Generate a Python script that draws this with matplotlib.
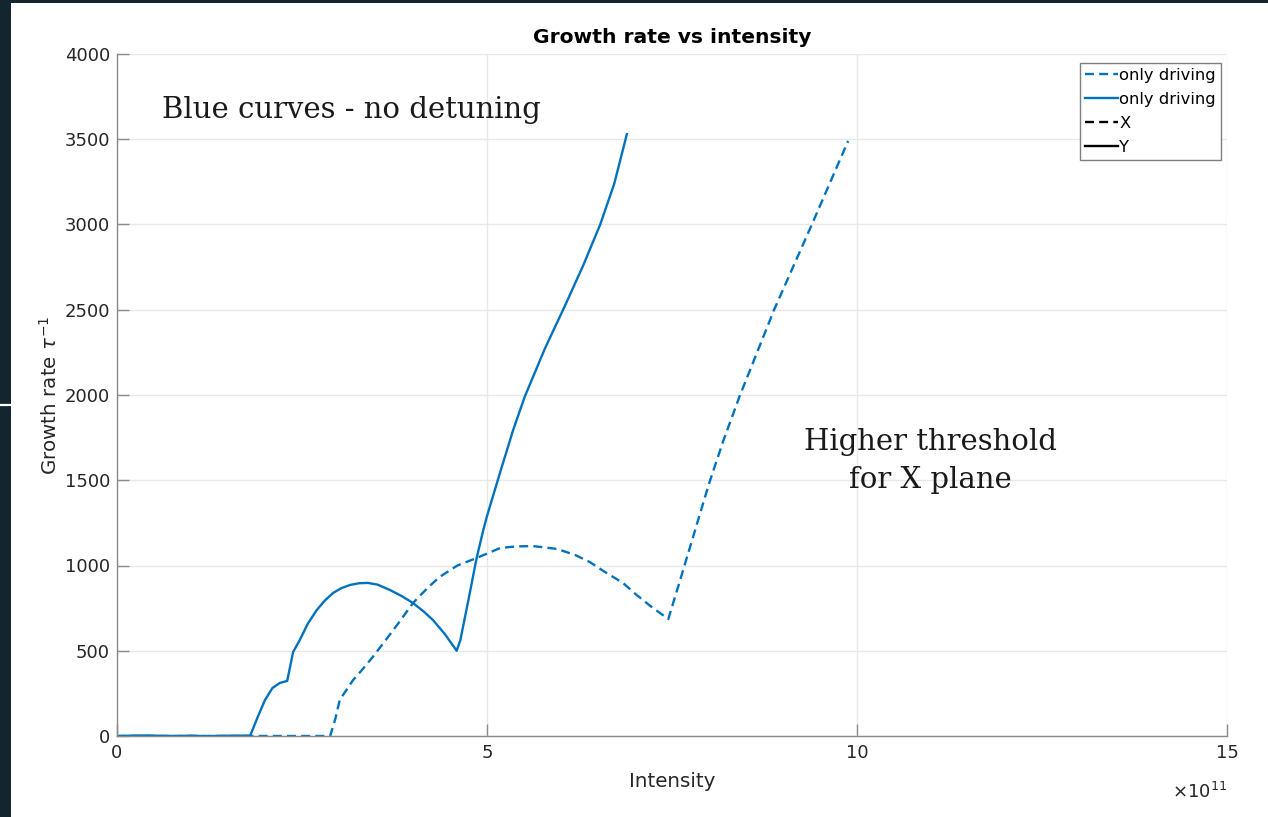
import numpy as np
import matplotlib
matplotlib.use("Agg")
import matplotlib.pyplot as plt
from matplotlib.lines import Line2D
from matplotlib.patches import Rectangle
from matplotlib.ticker import FuncFormatter

SCALE = 1e11  # intensities below are given in units of 1e11

# Y plane (solid, only driving)
int_y = [0.0, 0.2, 0.4, 0.6, 0.8, 1.0, 1.2, 1.4, 1.6, 1.8, 1.9, 2.0, 2.1, 2.2, 2.3,
         2.38, 2.47, 2.58, 2.70, 2.81, 2.92, 3.03, 3.15, 3.27, 3.39, 3.52, 3.69,
         3.85, 4.0, 4.15, 4.27, 4.43, 4.59,
         4.64, 4.75, 4.86, 4.95, 5.0, 5.18, 5.35, 5.51, 5.78, 6.05, 6.30, 6.53, 6.72, 6.89]
rate_y = [0, 2, 3, 1, 0, 2, -1, 1, 2, 2, 110, 211, 281, 311, 323,
          493, 563, 660, 739, 795, 839, 867, 886, 896, 898, 888, 856,
          820, 780, 728, 680, 598, 500,
          563, 800, 1044, 1208, 1290, 1550, 1790, 1990, 2270, 2520, 2760, 3000, 3240, 3530]

# X plane (dashed, only driving)
int_x = [0.0, 0.5, 1.0, 1.5, 2.0, 2.5, 2.88, 2.95, 3.01, 3.1, 3.19, 3.31, 3.45,
         3.6, 3.8, 4.0, 4.2, 4.36, 4.6, 4.86, 5.18, 5.4, 5.62, 5.95, 6.2, 6.39,
         6.6, 6.84, 7.0, 7.2, 7.45, 7.6, 7.8, 8.0, 8.2, 8.42, 8.88, 9.39, 9.88]
rate_x = [0, 0, 0, 0, 0, 0, 0, 100, 211, 270, 328, 387, 460,
          545, 660, 780, 870, 933, 1000, 1044, 1103, 1112, 1114, 1097, 1060, 1020,
          960, 897, 835, 765, 686, 900, 1190, 1480, 1740, 2000, 2500, 3000, 3490]

x_ticks = [0, 5, 10, 15]
y_ticks = [0, 500, 1000, 1500, 2000, 2500, 3000, 3500, 4000]

BLUE = '#0072BD'
TXT = '#262626'
plt.rcParams['font.family'] = ['DejaVu Sans']
plt.rcParams['mathtext.fontset'] = 'dejavusans'

fig = plt.figure(figsize=(12.68, 8.17), dpi=100, facecolor='#13262f')
fig.patches.append(Rectangle((11/1268, 0), 1 - 11/1268, 1 - 3/817,
                             transform=fig.transFigure, facecolor='white',
                             edgecolor='none', zorder=-10))
fig.lines.append(Line2D([0, 11/1268], [1 - 405/817, 1 - 405/817],
                        transform=fig.transFigure, color='white', lw=1.6,
                        zorder=-5))

ax = fig.add_axes([117/1268, 1 - 736/817, (1227 - 117)/1268, (736 - 54)/817])
ax.set_zorder(1)
ax.set_facecolor('white')

ax.plot(np.array(int_x) * SCALE, rate_x, color=BLUE, lw=1.7, ls='--',
        dashes=(3.8, 2.2), label='only driving')
ax.plot(np.array(int_y) * SCALE, rate_y, color=BLUE, lw=1.7, ls='-',
        label='only driving')
ax.plot([], [], color='black', lw=1.7, ls='--', dashes=(3.8, 2.2), label='X')
ax.plot([], [], color='black', lw=1.7, ls='-', label='Y')

ax.set_xlim(0, 15 * SCALE)
ax.set_ylim(0, 4000)
ax.set_xticks(np.array(x_ticks) * SCALE)
ax.set_yticks(y_ticks)
ax.xaxis.set_major_formatter(FuncFormatter(lambda v, p: '%g' % round(v / SCALE, 6)))
ax.text(1.0, -0.082, r'$\times10^{11}$', transform=ax.transAxes, ha='right',
        va='center', fontsize=13, color=TXT)

ax.grid(True, color='#e8e8e8', lw=1.0)
ax.set_axisbelow(True)
for s in ['top', 'right']:
    ax.spines[s].set_visible(False)
for s in ['left', 'bottom']:
    ax.spines[s].set_color('#8a8a8a')
    ax.spines[s].set_linewidth(1.0)
ax.tick_params(direction='in', length=8.5, width=1.0, color='#8a8a8a',
               labelsize=13, labelcolor=TXT, pad=5)
ax.tick_params(axis='x', pad=6)

ax.set_title('Growth rate vs intensity', fontsize=14.6, fontweight='bold',
             color='black', pad=8)
ax.set_xlabel('Intensity', fontsize=14.3, color=TXT, labelpad=7)
ax.set_ylabel('Growth rate $\\tau^{-1}$', fontsize=14.3, color=TXT, labelpad=3)

leg = ax.legend(loc='upper right', bbox_to_anchor=(0.9945, 0.9865), fontsize=11.8,
                handlelength=2.0, handletextpad=0.1, labelspacing=0.55,
                borderpad=0.3, borderaxespad=0.0, fancybox=False,
                framealpha=1, edgecolor='#7f7f7f')
leg.get_frame().set_linewidth(1.0)

ax.text(0.61 * SCALE, 3672, 'Blue curves - no detuning', family='DejaVu Serif',
        fontsize=21, color='#1a1a1a', ha='left', va='center')
ax.text(10.99 * SCALE, 1613, 'Higher threshold\nfor X plane', family='DejaVu Serif',
        fontsize=21, color='#1a1a1a', ha='center', va='center', linespacing=1.45,
        multialignment='center')

fig.savefig('out.png', dpi=100, facecolor=fig.get_facecolor())
